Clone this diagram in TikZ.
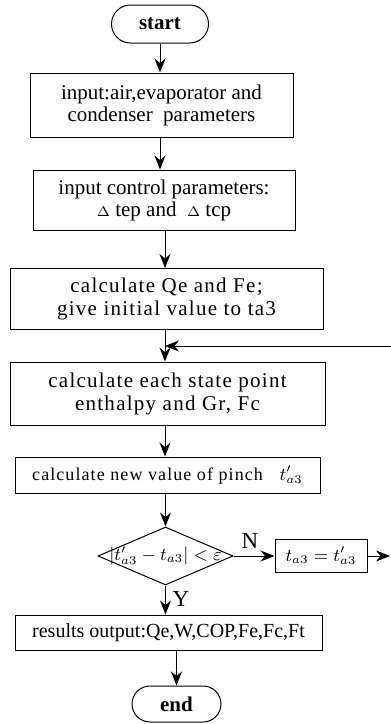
\documentclass[tikz,border=0pt]{standalone}
\usepackage{fontspec}
\setmainfont{Liberation Serif}
\newfontfamily\spcfont[LetterSpace=6]{Liberation Serif}
\usetikzlibrary{shapes.geometric,shapes.misc,arrows.meta,positioning}
\tikzset{
  proc/.style={draw, line width=0.5pt, align=center, inner sep=2pt, font=\fontsize{10.5}{11}\selectfont},
  sproc/.style={proc, font=\spcfont\fontsize{10.5}{11.5}\selectfont},
  term/.style={draw, rounded rectangle, line width=0.5pt, inner sep=2pt, font=\bfseries\fontsize{10.5}{11}\selectfont},
  dec/.style={draw, diamond, line width=0.5pt, inner sep=0pt, font=\fontsize{9}{10}\selectfont},
  arr/.style={-{Stealth[length=7pt,width=5.5pt]}, line width=0.5pt},
  lbl/.style={font=\fontsize{11.5}{12}\selectfont}
}

\begin{document}
\begin{tikzpicture}[x=0.5pt,y=-0.5pt]
  \useasboundingbox (0,0) rectangle (391,724);
  \node[term, minimum width=52.5pt, minimum height=19pt] (start) at (160,24) {start};
  \node[proc, minimum width=131.5pt, minimum height=32pt] (inp) at (161.5,105) {input:air,evaporator and\\condenser\ \ parameters};
  \node[proc, minimum width=131pt, minimum height=30pt] (ctrl) at (164,200) {input control parameters:\\$\scriptstyle\Delta$ tep and\ \ $\scriptstyle\Delta$ tcp};
  \node[sproc, minimum width=156.5pt, minimum height=30.5pt] (qe) at (166.5,299) {calculate Qe and Fe;\\give initial value to ta3};
  \coordinate (jn) at (165,346);
  \node[sproc, minimum width=157.5pt, minimum height=31.5pt] (st) at (167.5,393.5) {calculate each state point\\enthalpy and Gr, Fc};
  \node[sproc, minimum width=152.5pt, minimum height=18pt, font=\spcfont\fontsize{9}{10}\selectfont] (pin) at (167.5,475) {calculate new value of pinch\ \ \ $t'_{a3}$};
  \node[dec, minimum width=67.5pt, minimum height=29pt] (chk) at (165.5,556) {\makebox[0pt]{$\left|t'_{a3}-t_{a3}\right|<\varepsilon$}};
  \node[proc, minimum width=46pt, minimum height=16.5pt, font=\fontsize{9}{10}\selectfont] (upd) at (321,556) {$t_{a3}=t'_{a3}$};
  \coordinate (rout) at (390,556);
  \coordinate (rin) at (391,346);
  \node[proc, minimum width=153.5pt, minimum height=17.5pt, font=\fontsize{10}{11}\selectfont] (res) at (168.5,632.5) {results output:Qe,W,COP,Fe,Fc,Ft};
  \node[term, minimum width=48.5pt, minimum height=18pt] (end) at (176.5,704) {end};

  \draw[arr] (start.south) -- (start.south |- inp.north);
  \draw[arr] (inp.south -| start.south) -- (start.south |- ctrl.north);
  \draw[arr] (ctrl.south -| jn) -- (jn |- qe.north);
  \draw[arr] (qe.south -| jn) -- (jn |- st.north);
  \draw[arr] (rin) -- (jn);
  \draw[arr] (st.south -| jn) -- (jn |- pin.north);
  \draw[arr] (pin.south -| chk.north) -- (chk.north);
  \draw[arr] (chk.east) -- node[lbl, pos=0.4, above]{N} (upd.west);
  \draw[arr] (upd.east) -- (rout);
  \draw[arr] (chk.south) -- node[lbl, pos=0.45, right]{Y} (chk.south |- res.north);
  \draw[arr] (res.south -| end.north) -- (end.north);
\end{tikzpicture}
\end{document}
